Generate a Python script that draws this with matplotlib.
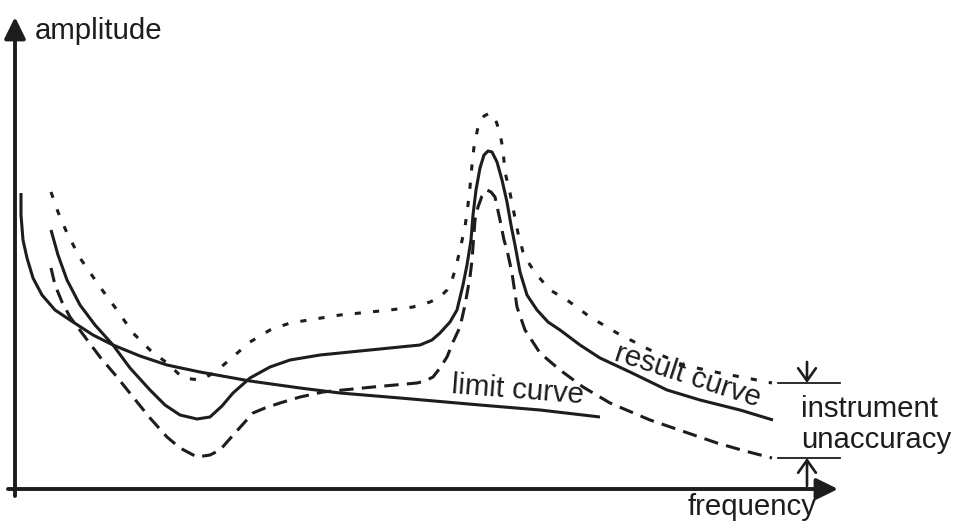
import matplotlib.pyplot as plt

limit_x = [21, 21, 23, 27, 33, 42, 55, 73, 93, 113, 140, 167, 200, 250, 300, 340, 400, 480, 540, 600]
limit_y = [193, 215, 240, 258, 278, 295, 310, 322, 335, 345, 356, 365, 372, 381, 388, 393, 398, 405, 410, 417]

result_x = [51, 58, 67, 80, 95, 113, 130, 150, 165, 180, 197, 210, 222, 233, 250, 270, 290, 320, 340,
            390, 420, 432, 440, 450, 457, 463, 467, 471, 473, 476, 480, 484, 488, 492, 497, 502, 507,
            511, 515, 520, 527, 537, 548, 560, 580, 600, 630, 667, 700, 740, 773]
result_y = [230, 255, 280, 305, 325, 345, 368, 390, 405, 415, 419, 417, 406, 393, 378, 367, 360, 355, 353,
            348, 345, 340, 333, 322, 310, 285, 265, 240, 215, 190, 168, 155, 151, 152, 162, 180, 202,
            225, 245, 272, 295, 310, 322, 330, 345, 358, 372, 390, 400, 410, 420]

upper_x = [51, 58, 67, 80, 100, 117, 133, 150, 167, 183, 200, 210, 220, 235, 250, 270, 290, 340, 390,
           413, 430, 440, 447, 452, 456, 461, 465, 468, 470, 472, 474, 478, 484, 490, 495, 500, 503,
           505, 510, 514, 518, 523, 530, 537, 550, 567, 590, 617, 650, 683, 720, 757, 772]
upper_y = [192, 212, 233, 258, 287, 310, 333, 350, 363, 378, 380, 375, 368, 355, 342, 330, 323, 315, 310,
           307, 302, 297, 290, 280, 267, 245, 227, 205, 187, 165, 147, 127, 116, 113, 118, 133, 150,
           172, 193, 213, 233, 252, 265, 275, 290, 300, 317, 333, 350, 365, 373, 380, 383]

lower_x = [51, 55, 62, 70, 85, 100, 117, 133, 150, 167, 180, 197, 210, 220, 235, 253, 265, 280, 300,
           323, 373, 417, 425, 433, 440, 447, 453, 460, 465, 470, 472, 475, 478, 482, 487, 491, 495,
           500, 504, 507, 512, 517, 525, 540, 560, 583, 610, 650, 685, 717, 745, 772]
lower_y = [268, 285, 302, 317, 337, 357, 377, 397, 418, 437, 448, 457, 455, 450, 433, 413, 408, 403, 397,
           392, 387, 383, 381, 377, 368, 357, 342, 327, 305, 277, 260, 220, 207, 196, 190, 192, 197,
           220, 240, 250, 273, 307, 330, 353, 370, 387, 403, 420, 432, 443, 451, 458]

ink = '#1e1c1d'

fig = plt.figure(figsize=(9.55, 5.23), dpi=100)
ax = fig.add_axes([0, 0, 1, 1])
ax.set_xlim(0, 955)
ax.set_ylim(523, 0)
ax.axis('off')

ax.plot(limit_x, limit_y, color=ink, lw=2.2, solid_capstyle='butt', solid_joinstyle='round')
ax.plot(result_x, result_y, color=ink, lw=2.2, solid_capstyle='butt', solid_joinstyle='round')
ax.plot(upper_x, upper_y, color=ink, lw=2.2, dashes=(2, 4), dash_joinstyle='round')
ax.plot(lower_x, lower_y, color=ink, lw=2.2, dashes=(4.7, 2.7), dash_joinstyle='round')

# axes with arrow heads
axis_arrow = dict(arrowstyle='-|>,head_length=0.65,head_width=0.32', lw=2.8, color=ink,
                  mutation_scale=20, shrinkA=0, shrinkB=0)
ax.annotate('', xy=(838, 489), xytext=(8, 489), arrowprops=axis_arrow)
ax.annotate('', xy=(15, 17), xytext=(15, 496), arrowprops=axis_arrow)

# instrument unaccuracy band
ax.plot([778, 840], [383, 383], color=ink, lw=1.3)
ax.plot([778, 840], [458, 458], color=ink, lw=1.3)
small_arrow = dict(arrowstyle='->,head_length=0.45,head_width=0.32', lw=1.9, color=ink,
                   mutation_scale=20, shrinkA=0, shrinkB=0)
ax.annotate('', xy=(807, 383), xytext=(807, 362), arrowprops=small_arrow)
ax.annotate('', xy=(807, 458), xytext=(807, 486), arrowprops=small_arrow)

font = dict(family=['Liberation Sans', 'DejaVu Sans'], size=21.2, color=ink)
ax.text(35, 39, 'amplitude', ha='left', va='baseline', **font)
ax.text(688, 515, 'frequency', ha='left', va='baseline', **font)
ax.text(801, 417, 'instrument', ha='left', va='baseline', **font)
ax.text(801, 448, 'unaccuracy', ha='left', va='baseline', **font)
ax.text(517, 398, 'limit curve', ha='center', va='baseline', rotation=-4.5,
        rotation_mode='anchor', **font)
ax.text(685, 383, 'result curve', ha='center', va='baseline', rotation=-18,
        rotation_mode='anchor', **font)

fig.savefig('out.png', dpi=100)
